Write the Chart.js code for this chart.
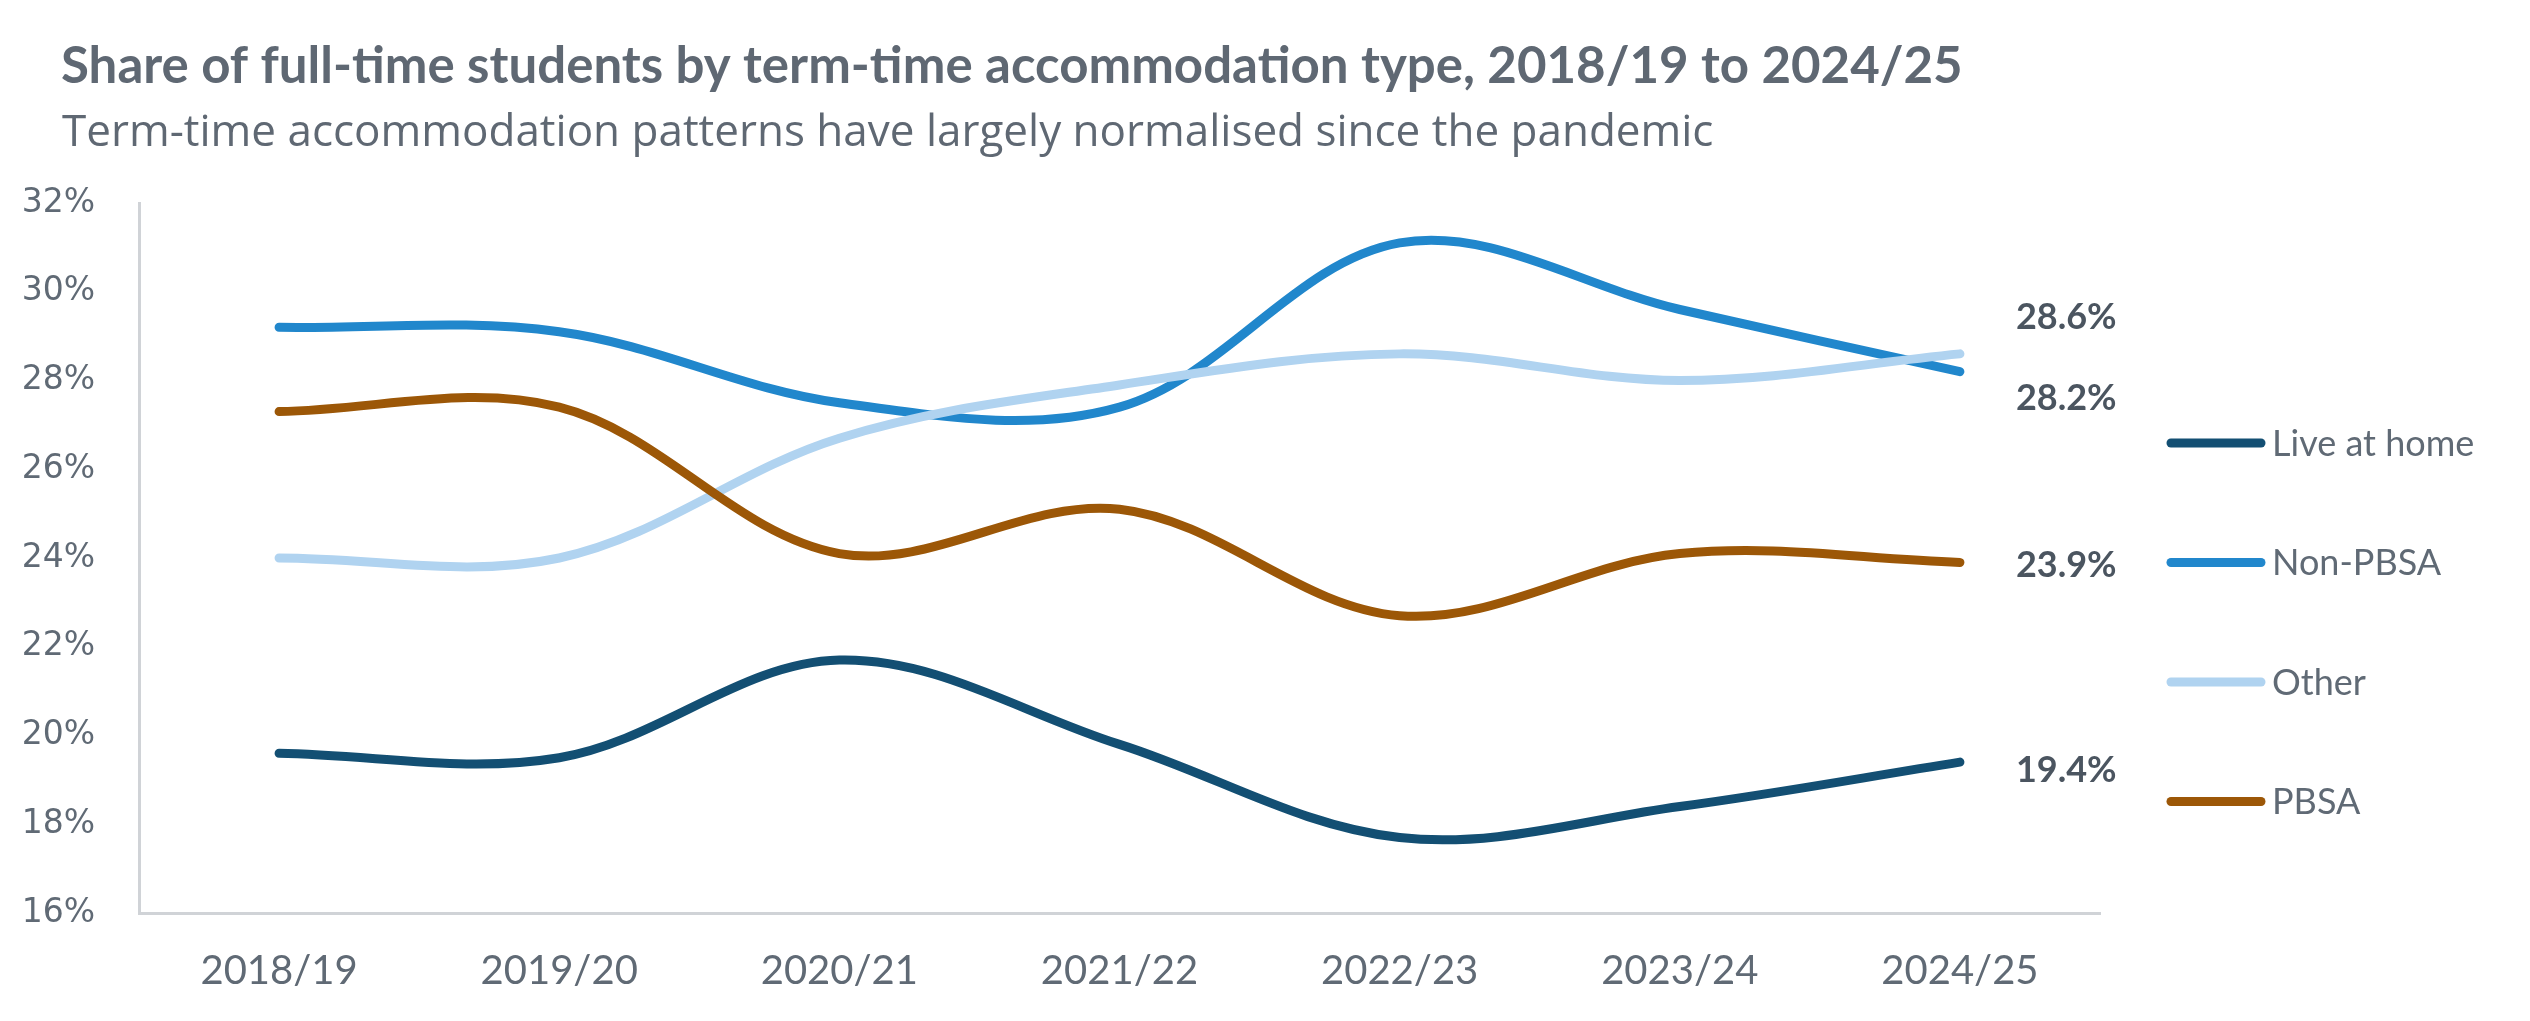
<!DOCTYPE html>
<html>
<head>
<meta charset="utf-8">
<script src="https://cdn.jsdelivr.net/npm/chart.js@4.4.1/dist/chart.umd.min.js"></script>
<style>
  html, body { margin: 0; padding: 0; background: #ffffff; }
  #wrap { position: relative; width: 2530px; height: 1021px; }
</style>
</head>
<body>
<div id="wrap"><canvas id="chart" width="2530" height="1021"></canvas></div>
<script>
// ------ Data ------
var years = ['2018/19', '2019/20', '2020/21', '2021/22', '2022/23', '2023/24', '2024/25'];
var liveAtHome = [19.6, 19.5, 21.7, 19.8, 17.7, 18.4, 19.4];
var nonPbsa    = [29.2, 29.1, 27.5, 27.4, 31.1, 29.6, 28.2];
var other      = [24.0, 24.0, 26.7, 27.9, 28.6, 28.0, 28.6];
var pbsa       = [27.3, 27.4, 24.1, 25.1, 22.7, 24.1, 23.9];
var yTicks     = [16, 18, 20, 22, 24, 26, 28, 30, 32];

var titleText = 'Share of full-time students by term-time accommodation type, 2018/19 to 2024/25';
var subtitleText = 'Term-time accommodation patterns have largely normalised since the pandemic';

var series = [
    { label: 'Live at home', data: liveAtHome, color: '#134f73', endDy: 8 },
    { label: 'Non-PBSA',     data: nonPbsa,    color: '#2187cc', endDy: 27 },
    { label: 'Other',        data: other,      color: '#b0d3f0', endDy: -36 },
    { label: 'PBSA',         data: pbsa,       color: '#9c5707', endDy: 3 }
];

var textGrey = '#606a75';

// ------ Titles, end labels and legend ------
var extrasPlugin = {
    id: 'extras',
    afterDraw: function(chart) {
        var ctx = chart.ctx;
        ctx.save();
        ctx.textAlign = 'left';
        ctx.textBaseline = 'alphabetic';
        ctx.fillStyle = '#5f6873';
        ctx.font = 'bold 51px Lato';
        ctx.fillText(titleText, 61, 83);
        ctx.font = '44px "Open Sans"';
        ctx.fillText(subtitleText, 62, 146);

        // value labels at the end of each line
        ctx.textBaseline = 'middle';
        ctx.font = 'bold 36px Lato';
        ctx.fillStyle = '#4b5560';
        series.forEach(function(s, i) {
            var meta = chart.getDatasetMeta(i);
            var pt = meta.data[meta.data.length - 1];
            var v = s.data[s.data.length - 1];
            ctx.fillText(v.toFixed(1) + '%', pt.x + 56, pt.y + s.endDy);
        });

        // legend
        ctx.font = '36px Lato';
        ctx.fillStyle = textGrey;
        ctx.lineCap = 'round';
        ctx.lineWidth = 9;
        series.forEach(function(s, i) {
            var y = 443 + i * 119.5;
            ctx.strokeStyle = s.color;
            ctx.beginPath();
            ctx.moveTo(2171, y);
            ctx.lineTo(2261, y);
            ctx.stroke();
            ctx.fillText(s.label, 2272, y + 1);
        });
        ctx.restore();
    }
};

new Chart(document.getElementById('chart'), {
    type: 'line',
    data: {
        labels: years,
        datasets: series.map(function(s, i) {
            return {
                label: s.label,
                data: s.data,
                borderColor: s.color,
                backgroundColor: s.color,
                borderWidth: 9,
                borderCapStyle: 'round',
                borderJoinStyle: 'round',
                pointRadius: 0,
                tension: 0.35,
                fill: false,
                order: series.length - i
            };
        })
    },
    options: {
        responsive: false,
        animation: false,
        devicePixelRatio: 1,
        layout: { padding: { left: 0, top: 203, right: 430, bottom: 0 } },
        plugins: {
            legend: { display: false },
            tooltip: { enabled: false }
        },
        scales: {
            x: {
                type: 'category',
                offset: true,
                grid: { display: false, drawTicks: false },
                border: { display: true, color: '#d0d3d7', width: 3 },
                ticks: {
                    color: textGrey,
                    font: { family: 'Lato', size: 40 },
                    padding: 34,
                    maxRotation: 0
                },
                afterFit: function(scale) { scale.height = 108; }
            },
            y: {
                min: yTicks[0],
                max: yTicks[yTicks.length - 1],
                grid: { display: false, drawTicks: false },
                border: { display: true, color: '#d0d3d7', width: 3 },
                afterBuildTicks: function(scale) {
                    scale.ticks = yTicks.map(function(v) { return { value: v }; });
                },
                ticks: {
                    color: textGrey,
                    font: { family: 'DejaVu Sans', size: 33 },
                    padding: 44,
                    callback: function(v) { return v + '%'; }
                },
                afterFit: function(scale) { scale.width = 139; }
            }
        }
    },
    plugins: [extrasPlugin]
});
</script>
</body>
</html>
